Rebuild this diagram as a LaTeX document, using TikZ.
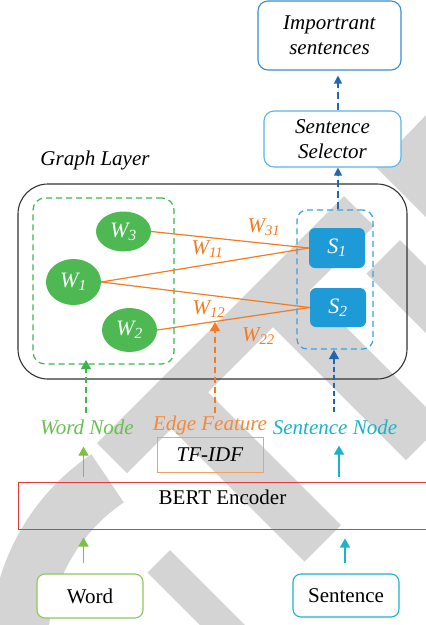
\documentclass[tikz,border=0pt]{standalone}
\usepackage{fontspec}
\setmainfont{Liberation Serif}
\usetikzlibrary{arrows.meta,shapes.geometric,calc}
\definecolor{wm}{RGB}{212,212,212}
\definecolor{wgreen}{RGB}{78,184,82}
\definecolor{gdash}{RGB}{61,181,74}
\definecolor{glabel}{RGB}{104,192,82}
\definecolor{garrow}{RGB}{122,193,67}
\definecolor{gbox}{RGB}{140,200,90}
\definecolor{eorange}{RGB}{244,123,32}
\definecolor{lorange}{RGB}{245,137,58}
\definecolor{torange}{RGB}{247,160,90}
\definecolor{sblue}{RGB}{30,154,215}
\definecolor{sdash}{RGB}{60,160,220}
\definecolor{dblue}{RGB}{33,102,176}
\definecolor{impblue}{RGB}{58,141,208}
\definecolor{selblue}{RGB}{90,180,234}
\definecolor{cyanc}{RGB}{26,180,200}
\definecolor{bertred}{RGB}{229,57,59}
\definecolor{outer}{RGB}{51,51,51}
\begin{document}
\begin{tikzpicture}[x=1pt,y=-1pt,font=\fontsize{21}{25}\selectfont,
  box/.style={draw,rounded corners=10pt,fill=white,align=center,inner sep=0pt,line width=1.1pt},
  wnode/.style={ellipse,fill=wgreen,text=white,inner sep=0pt,minimum width=55pt,font=\fontsize{22}{25}\selectfont},
  snode/.style={rectangle,rounded corners=6pt,fill=sblue,text=white,inner sep=0pt,minimum width=56pt,minimum height=40pt,font=\fontsize{22}{25}\selectfont},
  elab/.style={text=eorange,inner sep=0pt},
  edgeline/.style={draw=eorange,line width=1.2pt},
  tipped/.style={-{Triangle[width=10pt,length=9pt]}},
  smalltip/.style={-{Triangle[width=8pt,length=8pt]}},
  dashline/.style={line width=1.2pt,dash pattern=on 6pt off 4pt},
  txt/.style={inner sep=0pt}]
\useasboundingbox (0,0) rectangle (426,625);
\clip (0,0) rectangle (426,625);
% watermark
\fill[wm] (344,196) -- (374,226) -- (127,473) -- (97,443) -- cycle;
\fill[wm] (304.5,285.5) -- (442.5,423.5) -- (406,460) -- (268,322) -- cycle;
\fill[wm] (203,387) -- (341,525) -- (304.5,561.5) -- (166.5,423.5) -- cycle;
\fill[wm] (170,550) -- (260,640) -- (237.5,662.5) -- (147.5,572.5) -- cycle;
\fill[wm] (400,240) -- (555,395) -- (521.5,428.5) -- (366.5,273.5) -- cycle;
\fill[wm] (376,167) -- (456,84) -- (456,247) -- cycle;
\fill[wm] (220,645) ++(236:230) arc[start angle=236,end angle=110,radius=230]
  -- ($(220,645)+(110:172)$) arc[start angle=110,end angle=236,radius=172] -- cycle;
\coordinate (axis) at (338,0);
% top boxes
\node[box,draw=impblue,minimum width=143pt,minimum height=69pt] (imp) at (329.5,35.5)
  {\textit{Importrant}\\\textit{sentences}};
\node[box,draw=selblue,minimum width=137pt,minimum height=56pt] (sel) at (332.5,139)
  {\textit{Sentence}\\\textit{Selector}};
\node[txt] (gl) at (95,160) {\textit{Graph Layer}};
% graph layer
\node[draw=outer,line width=1.1pt,rounded corners=30pt,minimum width=389pt,minimum height=195pt,inner sep=0pt] (graph) at (212.5,281.5) {};
\node[draw=gdash,dashline,rounded corners=12pt,minimum width=141pt,minimum height=166pt,inner sep=0pt] (wdash) at (103.5,281) {};
\node[draw=sdash,dashline,rounded corners=10pt,minimum width=76pt,minimum height=139pt,inner sep=0pt] (sdashbox) at (335,279.5) {};
\node[wnode,minimum height=40pt] (w3) at (123.5,231.5) {\textit{W\textsubscript{3}}};
\node[wnode,minimum height=46pt] (w1) at (73.5,282) {\textit{W\textsubscript{1}}};
\node[wnode,minimum height=44pt] (w2) at (129.5,330) {\textit{W\textsubscript{2}}};
\node[snode] (s1) at (337,248) {\textit{S\textsubscript{1}}};
\node[snode,minimum height=39pt] (s2) at (338,307.5) {\textit{S\textsubscript{2}}};
\draw[edgeline] (w3.east) -- (s1.west);
\draw[edgeline] (w1.east) -- (s1.west);
\draw[edgeline] (w1.east) -- (s2.west);
\draw[edgeline] (w2.east) -- (s2.west);
\node[elab] (l31) at (264,227) {\textit{W\textsubscript{31}}};
\node[elab] (l11) at (207.5,249) {\textit{W\textsubscript{11}}};
\node[elab] (l12) at (209,309) {\textit{W\textsubscript{12}}};
\node[elab] (l22) at (258.5,336) {\textit{W\textsubscript{22}}};
% labels
\node[txt,text=glabel] (wn) at (87,427) {\textit{Word Node}};
\node[txt,text=lorange] (ef) at (210,425) {\textit{Edge Feature}};
\node[txt,text=cyanc] (sn) at (335,427) {\textit{Sentence Node}};
\node[draw=torange,line width=1pt,minimum width=106pt,minimum height=35pt,inner sep=0pt] (tfidf) at (210,454.5) {\textit{TF-IDF}};
\node[draw=bertred,line width=1pt,minimum width=422pt,minimum height=47pt,inner sep=0pt] (bert) at (229,505.5) {};
\node[txt] (berttxt) at (222.5,497) {BERT Encoder};
\node[box,draw=gbox,rounded corners=8pt,minimum width=106pt,minimum height=44pt] (word) at (90,596) {Word};
\node[box,draw=cyanc,rounded corners=8pt,minimum width=106pt,minimum height=43pt] (sent) at (346,595.5) {Sentence};
\coordinate (gtip) at (86,360);
\coordinate (otip) at (215,322);
\coordinate (btip) at (334,350);
% arrows
\draw[dashline,draw=dblue,smalltip,fill=dblue,dash pattern=on 7pt off 4pt,shorten >=5pt]
  (sel.north -| axis) -- (imp.south -| axis);
\draw[dashline,draw=dblue,smalltip,fill=dblue,dash pattern=on 7pt off 4pt]
  (sdashbox.north -| axis) -- (sel.south -| axis);
\draw[dashline,draw=gdash,tipped,fill=gdash] (86,413) -- (gtip);
\draw[dashline,draw=eorange,tipped,fill=eorange] (215,413) -- (otip);
\draw[dashline,draw=dblue,tipped,fill=dblue,dash pattern=on 5pt off 3pt] (334,412) -- (btip);
\coordinate (ga) at (83.5,0);
\coordinate (ca) at (339,0);
\coordinate (cb) at (345,0);
\draw[line width=1.2pt,draw=garrow,tipped,fill=garrow,shorten <=5pt,shorten >=12pt] (bert.north -| ga) -- (wn.south -| ga);
\draw[line width=1.2pt,draw=cyanc,tipped,fill=cyanc,shorten <=5pt,shorten >=11pt] (bert.north -| ca) -- (sn.south -| ca);
\draw[line width=1.2pt,draw=garrow,tipped,fill=garrow,shorten <=10pt,shorten >=8pt] (word.north -| ga) -- (bert.south -| ga);
\draw[line width=1.2pt,draw=cyanc,tipped,fill=cyanc,shorten <=10pt,shorten >=9pt] (sent.north -| cb) -- (bert.south -| cb);
\end{tikzpicture}
\end{document}
